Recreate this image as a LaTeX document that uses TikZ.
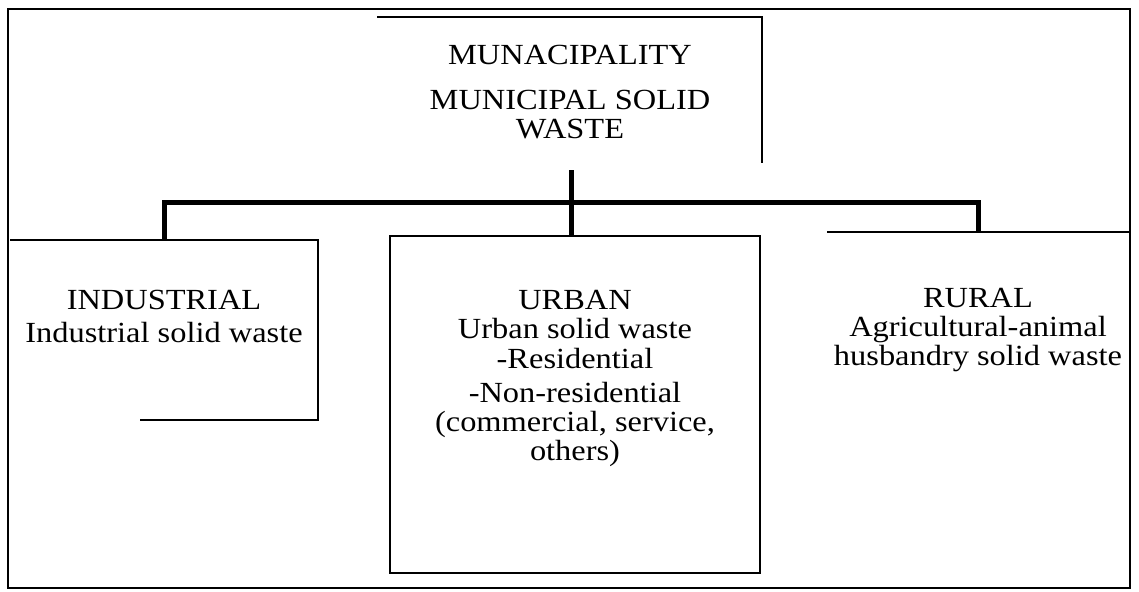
\documentclass[tikz,border=0pt]{standalone}
\usepackage{fontspec}
\setmainfont{Liberation Serif}[FakeStretch=1.11]
\usetikzlibrary{positioning}

\tikzset{
  frame/.style={line width=1pt},
  boxline/.style={line width=1.1pt},
  bar/.style={line width=2.5pt},
  wbox/.style={inner sep=0pt, outer sep=0pt},
  boxtext/.style={align=center, inner sep=0pt, font=\fontsize{14.6}{14.5}\selectfont}
}

\begin{document}
\begin{tikzpicture}[x=0.5pt, y=-0.5pt]
\useasboundingbox (0,0) rectangle (1139,591);
% outer frame
\draw[frame] (8,9) rectangle (1130,588);

% boxes (only the printed sides are drawn)
\node[wbox, minimum width=192.5pt, minimum height=73pt] (mun) at (569.5,90) {};
\node[wbox, minimum width=154pt, minimum height=90pt] (ind) at (164,330) {};
\node[wbox, minimum width=185pt, minimum height=168.5pt] (urb) at (575,404.5) {};
\node[wbox, minimum width=151.5pt, minimum height=178pt] (rur) at (978.5,410) {};

\draw[boxline] (mun.north west) -- (mun.north east) -- (mun.south east);
\draw[boxline] (ind.north west) -- (ind.north east) -- (ind.south east) -- ++(-89pt,0);
\draw[boxline] (urb.north west) rectangle (urb.south east);
\draw[boxline] (rur.north west) -- (rur.north east);

% tree
\coordinate (stem) at (571,170);
\coordinate (hub) at (571,202);
\draw[bar] (stem) -- (hub |- urb.north);
\draw[bar] (ind.north) |- (hub) -| (rur.north);

% texts
\node[boxtext, anchor=north] (muntxt) at (570,45)
  {MUNACIPALITY\\[8pt]MUNICIPAL SOLID\\WASTE};
\node[boxtext, anchor=north] (indtxt) at (164,290)
  {INDUSTRIAL\\[2pt]Industrial solid waste};
\node[boxtext, anchor=north] (urbtxt) at (575,290)
  {URBAN\\Urban solid waste\\[0.5pt]-Residential\\[2.5pt]-Non-residential\\(commercial, service,\\others)};
\node[boxtext, anchor=north] (rurtxt) at (978,288)
  {RURAL\\Agricultural-animal\\husbandry solid waste};
\end{tikzpicture}
\end{document}
